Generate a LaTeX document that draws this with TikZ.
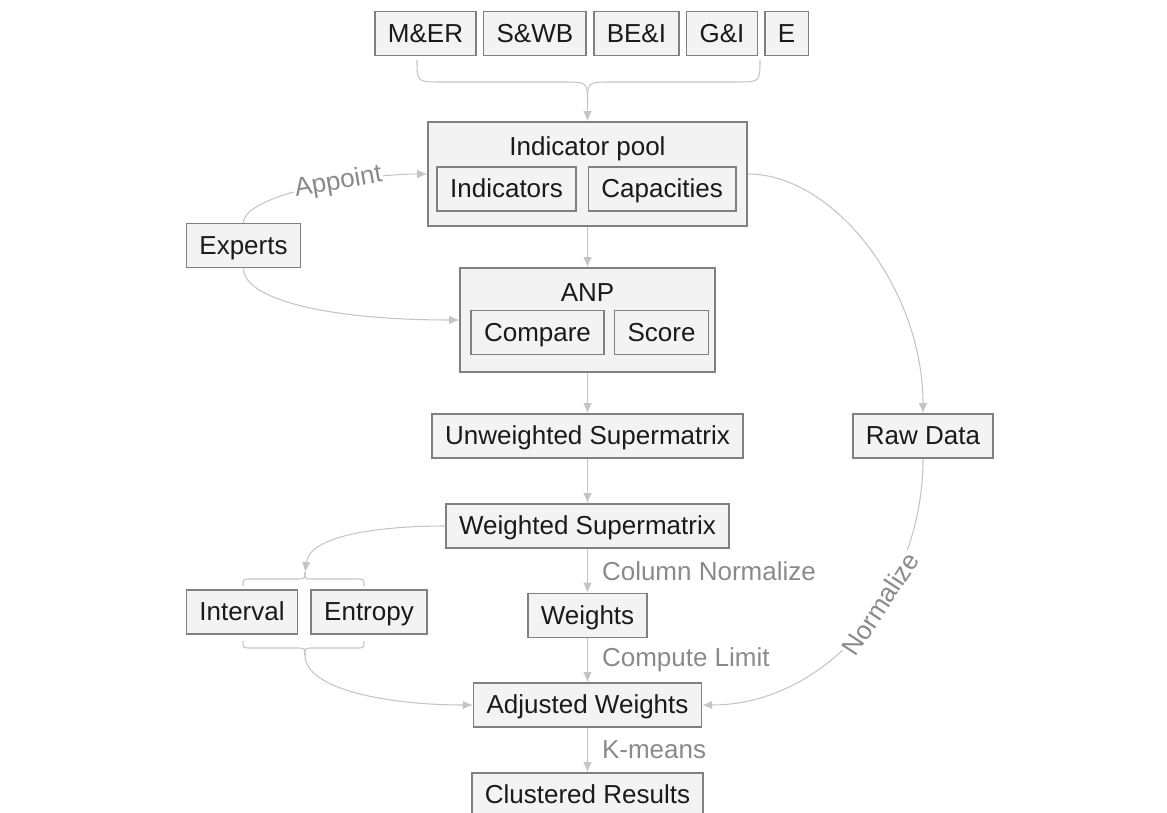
\documentclass[tikz,border=0pt]{standalone}
\usepackage{fontspec}
\setmainfont{Liberation Sans}
\usetikzlibrary{arrows, arrows.meta, positioning}
\definecolor{bgray}{HTML}{808080}
\definecolor{bfill}{HTML}{F3F3F3}
\definecolor{lgray}{HTML}{C4C4C4}
\definecolor{tgray}{HTML}{8A8A8A}
\definecolor{tdark}{HTML}{1A1A1A}
\tikzstyle{block} = [rectangle, draw = bgray, fill = bfill, line width = 0.9pt, minimum height = 0.88cm, inner xsep = 0.26cm, inner ysep = 0pt, text height = 10.6pt, text depth = 0.4pt, text = tdark, font = \fontsize{14.8}{17}\selectfont]
\tikzstyle{group} = [rectangle, draw = bgray, fill = bfill, line width = 0.9pt, minimum height = 2.08cm]
\tikzstyle{heading} = [text = tdark, text height = 10.6pt, text depth = 0.4pt, font = \fontsize{14.8}{17}\selectfont]
\tikzstyle{tag} = [text = tgray, inner sep = 0.1cm, font = \fontsize{14.8}{17}\selectfont]
\tikzstyle{flow} = [lgray, line width = 0.6pt, ->, >={Latex[length = 0.2cm, width = 0.17cm]}]
\tikzstyle{brace} = [lgray, line width = 0.6pt]

\begin{document}
\begin{tikzpicture}[x=0.02cm, y=-0.02cm, node distance = 0.12cm]
  \useasboundingbox (0,0) rectangle (1167,812);
  \node (mer) [block] at (425.5,33.5) {M\&ER};
  \node (swb) [block, right = of mer] {S\&WB};
  \node (bei) [block, right = of swb] {BE\&I};
  \node (gi) [block, right = of bei] {G\&I};
  \node (e) [block, right = of gi] {E};
  \node (pool) [group, minimum width = 6.38cm] at (587.5,174) {};
  \node (pooltitle) [heading] at (587.5,147) {Indicator pool};
  \node (ind) [block] at (506.5,189) {Indicators};
  \node (cap) [block, right = 0.22cm of ind] {Capacities};
  \node (experts) [block] at (243.5,245.5) {Experts};
  \node (anp) [group, minimum width = 5.1cm] at (587.5,320) {};
  \node (anptitle) [heading] at (587.5,293) {ANP};
  \node (cmp) [block] at (537.5,332.5) {Compare};
  \node (score) [block, right = 0.18cm of cmp] {Score};
  \node (unw) [block] at (587.5,436) {Unweighted Supermatrix};
  \node (raw) [block] at (923,436) {Raw Data};
  \node (wsm) [block] at (587.5,526) {Weighted Supermatrix};
  \node (intv) [block] at (242,612) {Interval};
  \node (entr) [block, right = 0.24cm of intv] {Entropy};
  \node (wts) [block] at (587.5,615.5) {Weights};
  \node (adj) [block] at (587.5,705) {Adjusted Weights};
  \node (clu) [block] at (587.5,795) {Clustered Results};
  \coordinate (topl) at (417,60);
  \coordinate (topr) at (760,60);
  \coordinate (topm) at (587.5,102);
  \coordinate (hil) at (243,586);
  \coordinate (hir) at (364,586);
  \coordinate (hitop) at (305,572);
  \coordinate (lol) at (243,641);
  \coordinate (lor) at (364,641);
  \coordinate (lobot) at (305,655);
  \draw [brace] (topl) .. controls (417,82) .. (441,82) -- (562,82) .. controls (587.5,82) .. (topm);
  \draw [brace] (topr) .. controls (760,82) .. (736,82) -- (613,82) .. controls (587.5,82) .. (topm);
  \draw [flow] (topm) -- (pool.north);
  \draw [flow] (experts.north) .. controls (243.5,195) and (360,174) .. node [tag, sloped, fill = white, inner sep = 0.02cm, pos = 0.62] {Appoint} (pool.west);
  \draw [flow] (experts.south) .. controls (243.5,300) and (330,320) .. (anp.west);
  \draw [flow] (pool) -- (anp);
  \draw [flow] (anp) -- (unw);
  \draw [flow] (unw) -- (wsm);
  \draw [flow] (pool.east) .. controls (835,174) and (923,290) .. (raw.north);
  \draw [flow] (wsm) -- node [tag, right = 0.18cm] {Column Normalize} (wts);
  \draw [flow] (wts) -- node [tag, right = 0.18cm] {Compute Limit} (adj);
  \draw [flow] (adj) -- node [tag, right = 0.18cm] {K-means} (clu);
  \draw [brace] (hil) .. controls (243,579) .. (251,579) -- (296,579) .. controls (305,579) .. (hitop);
  \draw [brace] (hir) .. controls (364,579) .. (356,579) -- (314,579) .. controls (305,579) .. (hitop);
  \draw [flow] (wsm.west) .. controls (380,526) and (310,535) .. (hitop);
  \draw [brace] (lol) .. controls (243,648) .. (251,648) -- (296,648) .. controls (305,648) .. (lobot);
  \draw [brace] (lor) .. controls (364,648) .. (356,648) -- (314,648) .. controls (305,648) .. (lobot);
  \draw [flow] (lobot) .. controls (305,690) and (390,705) .. (adj.west);
  \draw [flow] (raw.south) .. controls (923,594) and (824,705) .. node [tag, sloped, fill = white, inner sep = 0.02cm, pos = 0.4] {Normalize} (adj.east);
\end{tikzpicture}
\end{document}
